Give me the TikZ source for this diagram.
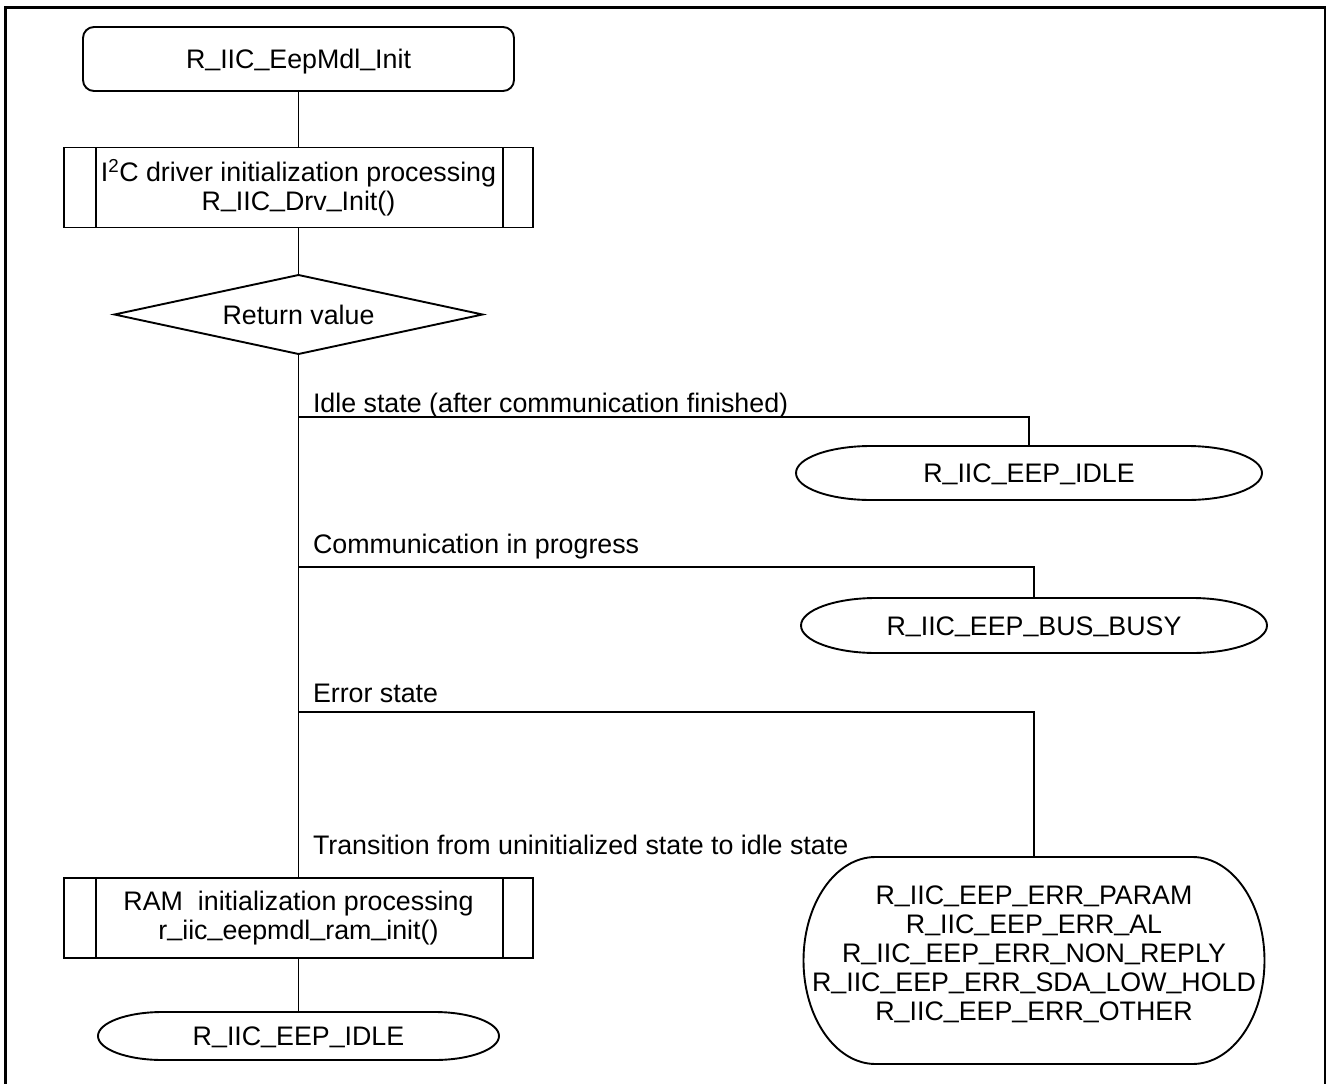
\documentclass[tikz,border=0pt]{standalone}
\usepackage{fontspec}
\setmainfont{Liberation Sans}
\usetikzlibrary{shapes.geometric}

% underscore sitting on the baseline
\newcommand{\us}{\raisebox{0.13em}{\_}}

\begin{document}
\begin{tikzpicture}[x=1pt,y=-1pt,
  every node/.style={font=\fontsize{26.8pt}{29pt}\selectfont, inner sep=0pt, outer sep=0pt},
  ln/.style={line width=1.9pt},
  oneline/.style={text height=19.2pt, text depth=0pt},
  term/.style={draw, ln, rounded corners=11pt, minimum width=431pt, minimum height=64pt, oneline},
  predef/.style={draw, ln, rectangle, minimum width=469pt, minimum height=80pt, align=center},
  decide/.style={draw, ln, diamond, shape aspect=4.66, minimum width=368pt, minimum height=79pt, oneline},
  endpt/.style={rectangle, oneline},
  lbl/.style={anchor=base west},
  wire/.style={ln}
]
\useasboundingbox (0,0) rectangle (1328,1084);

% outer frame (open at the bottom edge)
\draw[line width=2.7pt] (5.5,1090) -- (5.5,7.5) -- (1325,7.5) -- (1325,1090);

% main flow
\node[term] (start) at (298.5,59) {R\us IIC\us EepMdl\us Init};
\node[predef] (b1) at (298.5,187.5) {I\textsuperscript{2}C driver initialization processing\\R\us IIC\us Drv\us Init()};
\node[decide] (dia) at (298.5,314.5) {Return value};
\node[predef] (b2) at (298.5,918) {RAM~~initialization processing\\r\us iic\us eepmdl\us ram\us init()};
\node[endpt, minimum width=401pt, minimum height=48pt] (e3) at (298.5,1036) {R\us IIC\us EEP\us IDLE};

% side bars of the predefined-process boxes
\foreach \b in {b1,b2} {
  \draw[ln] ([xshift=32pt]\b.north west) -- ([xshift=32pt]\b.south west);
  \draw[ln] ([xshift=-30pt]\b.north east) -- ([xshift=-30pt]\b.south east);
}

% result terminals
\node[endpt, minimum width=466pt, minimum height=54pt] (e1) at (1029,473) {R\us IIC\us EEP\us IDLE};
\node[endpt, minimum width=466pt, minimum height=55pt] (e2) at (1034,625.5) {R\us IIC\us EEP\us BUS\us BUSY};
\node[minimum width=461pt, minimum height=207pt] (errs) at (1034,960.5) {};
\node[align=center, yshift=6pt] (errtxt) at (errs.center) {R\us IIC\us EEP\us ERR\us PARAM\\R\us IIC\us EEP\us ERR\us AL\\R\us IIC\us EEP\us ERR\us NON\us REPLY\\R\us IIC\us EEP\us ERR\us SDA\us LOW\us HOLD\\R\us IIC\us EEP\us ERR\us OTHER};

% terminator outlines: flat top and bottom with elliptic ends
\foreach \n/\r/\h in {e1/75/27, e2/75/27.5, e3/64.5/24, errs/72/103.5} {
  \draw[ln] ([xshift=\r pt]\n.north west) -- ([xshift=-\r pt]\n.north east)
    arc[start angle=90, end angle=-90, x radius=\r pt, y radius=\h pt]
    -- ([xshift=\r pt]\n.south west)
    arc[start angle=270, end angle=90, x radius=\r pt, y radius=\h pt] -- cycle;
}

% branch points on the trunk
\coordinate (j1) at (298.5,416.7);
\coordinate (j2) at (298.5,566.7);
\coordinate (j3) at (298.5,711.7);

% connectors
\draw[wire] (start) -- (b1);
\draw[wire] (b1) -- (dia);
\draw[wire] (dia) -- (b2);
\draw[wire] (b2) -- (e3);
\draw[wire] (j1) -| (e1.north);
\draw[wire] (j2) -| (e2.north);
\draw[wire] (j3) -| (errs.north);

% branch labels
\node[lbl] (l1) at (313,412.3) {Idle state (after communication finished)};
\node[lbl] (l2) at (313,553.5) {Communication in progress};
\node[lbl] (l3) at (313,702.5) {Error state};
\node[lbl] (l4) at (313,854.5) {Transition from uninitialized state to idle state};
\end{tikzpicture}
\end{document}
